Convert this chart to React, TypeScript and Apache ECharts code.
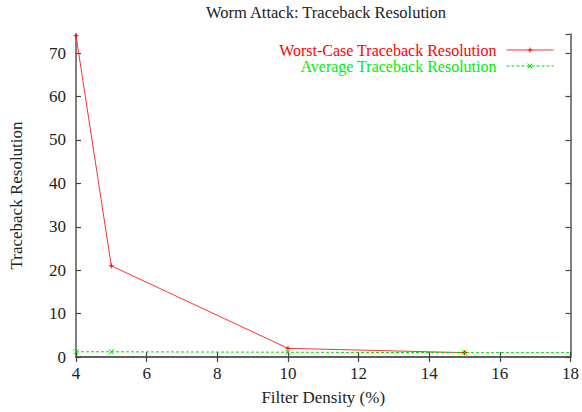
import React, { useEffect, useRef } from "react";
import * as echarts from "echarts";

const worstX = [4, 5, 10, 15];
const worstY = [74, 21, 2, 1.0];
const avgX = [4, 5, 10, 15, 20];
const avgY = [1.2, 1.2, 1.1, 1.0, 1.0];

const FONT = "Liberation Serif";

export default function App() {
  const ref = useRef<HTMLDivElement>(null);
  useEffect(() => {
    document.body.style.margin = "0";
    if (!ref.current) return;
    const chart = echarts.init(ref.current, undefined, { renderer: "svg" });
    const axisLine = { show: true, lineStyle: { color: "#555", width: 1.5 } };
    const tick = { show: true, inside: true, length: 5, lineStyle: { color: "#444", width: 1.2 } };
    const label = { fontFamily: FONT, fontSize: 17, color: "#222" };
    chart.setOption({
      animation: false,
      backgroundColor: "#fff",
      title: {
        text: "Worm Attack: Traceback Resolution",
        left: 321,
        textAlign: "center",
        top: -1,
        textStyle: { fontFamily: FONT, fontSize: 16.5, fontWeight: "normal", color: "#222" },
      },
      legend: {
        orient: "vertical",
        right: 23,
        top: 37,
        align: "right",
        itemWidth: 47,
        itemHeight: 6,
        itemGap: 0,
        lineStyle: { width: 1 },
        itemStyle: { borderWidth: 1 },
        textStyle: { fontFamily: FONT, fontSize: 16, padding: [0, 5, 0, 0] },
        data: [
          { name: "Worst-Case Traceback Resolution", textStyle: { color: "#ff0000" } },
          { name: "Average Traceback Resolution", textStyle: { color: "#00ee00" } },
        ],
      },
      grid: { left: 67, right: 7, top: 34, bottom: 55 },
      xAxis: [
        {
          type: "value",
          min: 4,
          max: 18,
          interval: 2,
          name: "Filter Density (%)",
          nameLocation: "middle",
          nameGap: 32,
          nameTextStyle: { fontFamily: FONT, fontSize: 17, color: "#222" },
          axisLine,
          axisTick: tick,
          axisLabel: { ...label, margin: 8 },
          splitLine: { show: false },
        },
        {
          type: "value",
          position: "top",
          min: 4,
          max: 18,
          interval: 2,
          axisLine,
          axisTick: tick,
          axisLabel: { show: false },
          splitLine: { show: false },
        },
      ],
      yAxis: [
        {
          type: "value",
          min: 0,
          max: 74.4,
          interval: 10,
          name: "Traceback Resolution",
          nameLocation: "middle",
          nameGap: 51,
          nameTextStyle: { fontFamily: FONT, fontSize: 17, color: "#222" },
          axisLine,
          axisTick: tick,
          axisLabel: { ...label, margin: 10, showMaxLabel: false },
          splitLine: { show: false },
        },
        {
          type: "value",
          position: "right",
          min: 0,
          max: 74.4,
          interval: 10,
          axisLine,
          axisTick: tick,
          axisLabel: { show: false },
          splitLine: { show: false },
        },
      ],
      series: [
        {
          name: "Worst-Case Traceback Resolution",
          type: "line",
          xAxisIndex: 0,
          yAxisIndex: 0,
          data: worstX.map((x, i) => [x, worstY[i]]),
          lineStyle: { color: "#ff3333", width: 1 },
          symbol: "path://M0,5L10,5M5,0L5,10",
          symbolSize: 5,
          itemStyle: { color: "none", borderColor: "#ff0000", borderWidth: 1 },
          color: "#ff0000",
        },
        {
          name: "Average Traceback Resolution",
          type: "line",
          xAxisIndex: 0,
          yAxisIndex: 0,
          data: avgX.map((x, i) => [x, avgY[i]]),
          lineStyle: { color: "#00dd00", width: 1, type: [3, 2] },
          symbol: "path://M0,0L10,10M10,0L0,10",
          symbolSize: 5,
          itemStyle: { color: "none", borderColor: "#00dd00", borderWidth: 1 },
          color: "#00dd00",
          clip: true,
        },
      ],
    });
    return () => chart.dispose();
  }, []);
  return <div ref={ref} style={{ width: 582, height: 412 }} />;
}
